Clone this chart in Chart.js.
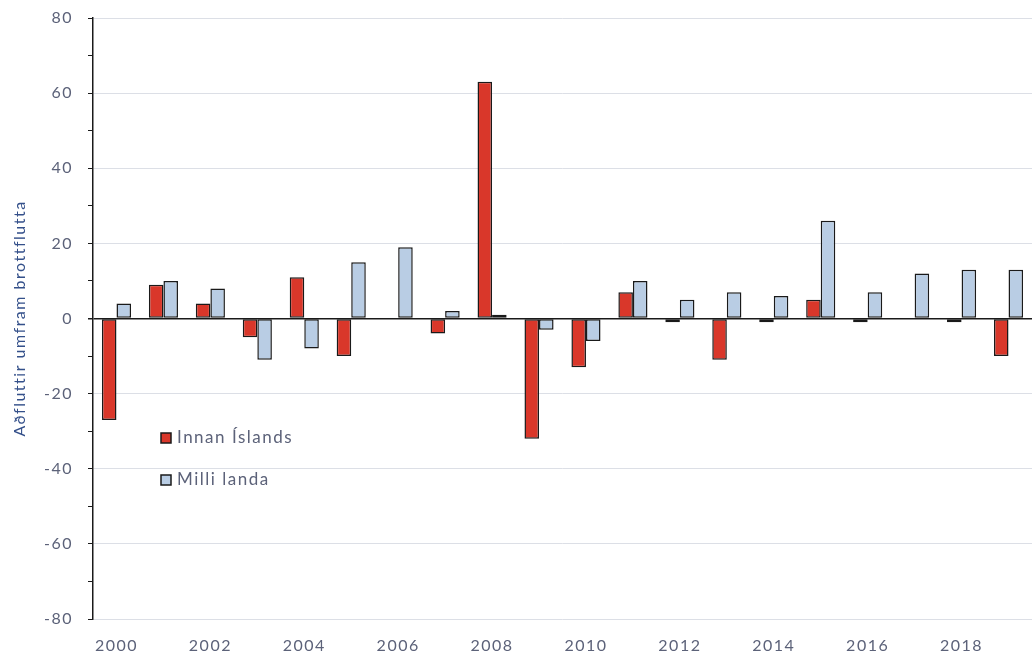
<!DOCTYPE html>
<html>
<head>
<meta charset="utf-8">
<script src="https://cdn.jsdelivr.net/npm/chart.js@4.4.1/dist/chart.umd.min.js"></script>
<style>
html,body{margin:0;padding:0;background:#fff;overflow:hidden;}
#wrap{width:1032px;height:657px;position:relative;}
</style>
</head>
<body>
<div id="wrap"><canvas id="c" width="1032" height="657"></canvas></div>
<script>
const years = ['2000','2001','2002','2003','2004','2005','2006','2007','2008','2009','2010','2011','2012','2013','2014','2015','2016','2017','2018','2019'];
const innanIslands = [-27, 9, 4, -5, 11, -10, 0, -4, 63, -32, -13, 7, -1, -11, -1, 5, -1, 0, -1, -10];
const milliLanda = [4, 10, 8, -11, -8, 15, 19, 2, 1, -3, -6, 10, 5, 7, 6, 26, 7, 12, 13, 13];
const seriesNames = ['Innan Íslands', 'Milli landa'];
const yTitle = 'Aðfluttir umfram brottflutta';

const FONT = 'Lato, "Open Sans", sans-serif';
const TEXT = '#5c6279';
const RED = '#d9372a';
const BLUE = '#b9cde4';

const spacingPlugin = {
  id: 'spacing',
  beforeDraw(chart) { chart.ctx.letterSpacing = '1.5px'; },
  afterDraw(chart) { chart.ctx.letterSpacing = '0px'; }
};

const legendPlugin = {
  id: 'insideLegend',
  afterDraw(chart) {
    const ctx = chart.ctx;
    const ys = [438, 480];
    ctx.save();
    ctx.letterSpacing = '1.5px';
    chart.data.datasets.forEach((ds, i) => {
      const y = ys[i];
      ctx.fillStyle = ds.backgroundColor;
      ctx.fillRect(161, y - 5, 10, 10);
      ctx.strokeStyle = '#1a1a1a';
      ctx.lineWidth = 1.5;
      ctx.strokeRect(161, y - 5, 10, 10);
      ctx.fillStyle = TEXT;
      ctx.font = '17px ' + FONT;
      ctx.textBaseline = 'middle';
      ctx.textAlign = 'left';
      ctx.fillText(ds.label, 177, y);
    });
    ctx.restore();
  }
};

const bw = c => (c.raw === 0 ? 0 : 1.5);

new Chart(document.getElementById('c'), {
  type: 'bar',
  data: {
    labels: years,
    datasets: [
      {label: seriesNames[0], data: innanIslands, backgroundColor: RED, borderColor: '#1a1a1a', borderWidth: bw, borderSkipped: false},
      {label: seriesNames[1], data: milliLanda, backgroundColor: BLUE, borderColor: '#1a1a1a', borderWidth: bw, borderSkipped: false}
    ]
  },
  options: {
    responsive: false,
    animation: false,
    layout: {padding: {top: 18, right: 0, left: 0, bottom: 0}},
    categoryPercentage: 0.62,
    barPercentage: 1.0,
    plugins: {legend: {display: false}, tooltip: {enabled: false}},
    scales: {
      x: {
        border: {display: false},
        grid: {display: false},
        ticks: {
          color: TEXT,
          font: {family: FONT, size: 16},
          maxRotation: 0,
          autoSkip: false,
          padding: 9,
          callback: function(v, i) { return i % 2 === 0 ? this.getLabelForValue(v) : ''; }
        },
        afterFit(s) { s.height = 38; s.paddingLeft = 0; s.paddingRight = 0; }
      },
      y: {
        min: -80, max: 80,
        border: {display: true, color: '#1a1a1a', width: 1.5},
        grid: {
          color: c => c.tick.value === 0 ? '#1a1a1a' : (c.tick.value % 20 === 0 ? '#dcdfe6' : 'rgba(0,0,0,0)'),
          lineWidth: c => c.tick.value === 0 ? 1.5 : 1,
          tickColor: '#1a1a1a',
          tickLength: 5,
          drawTicks: true
        },
        ticks: {
          stepSize: 10,
          color: TEXT,
          font: {family: FONT, size: 16},
          padding: 15,
          callback: v => (v % 20 === 0 ? String(v) : '')
        },
        title: {
          display: true,
          text: yTitle,
          color: '#34508a',
          font: {family: FONT, size: 16},
          padding: {top: 10, bottom: 0}
        },
        afterFit(s) { s.width = 93; s.paddingTop = 0; s.paddingBottom = 0; }
      }
    }
  },
  plugins: [spacingPlugin, legendPlugin]
});
</script>
</body>
</html>
